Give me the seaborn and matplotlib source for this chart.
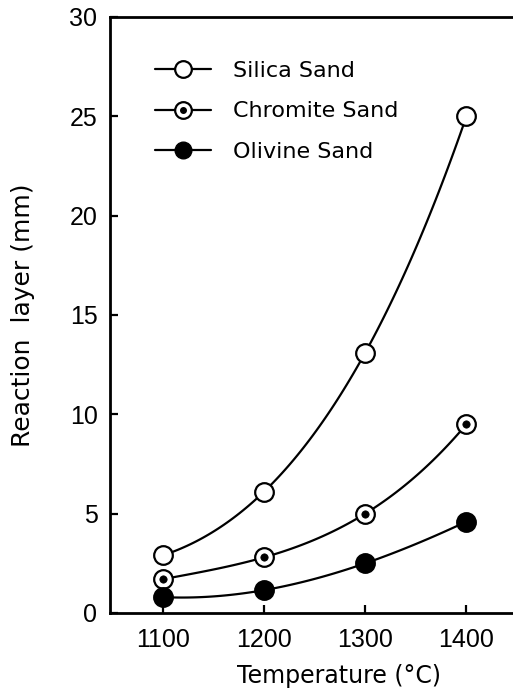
import matplotlib
matplotlib.use("Agg")
import matplotlib.pyplot as plt
import seaborn as sns
import numpy as np
from matplotlib.lines import Line2D
from matplotlib.legend_handler import HandlerTuple

# ---- data ----
temperature = [1100, 1200, 1300, 1400]
silica = [2.9, 6.1, 13.1, 25.0]
chromite = [1.7, 2.8, 5.0, 9.5]
olivine = [0.8, 1.15, 2.5, 4.6]
series_names = ["Silica Sand", "Chromite Sand", "Olivine Sand"]
xticks = [1100, 1200, 1300, 1400]
yticks = [0, 5, 10, 15, 20, 25, 30]

sns.set_style("ticks")
plt.rcParams["font.family"] = ["Liberation Sans", "DejaVu Sans"]
plt.rcParams["text.color"] = "black"
plt.rcParams["axes.labelcolor"] = "black"
plt.rcParams["xtick.color"] = "black"
plt.rcParams["ytick.color"] = "black"

fig = plt.figure(figsize=(5.13, 6.89), dpi=100)
ax = fig.add_axes([110 / 513, 1 - 613 / 689, 1 - 110 / 513, (613 - 17) / 689])

for vals in (silica, chromite, olivine):
    sns.regplot(x=temperature, y=vals, order=3, ci=None, scatter=False,
                truncate=True, ax=ax,
                line_kws=dict(color="black", lw=1.6, zorder=2))

msize = 180
sns.scatterplot(x=temperature, y=silica, ax=ax, s=msize, color="white",
                edgecolor="black", linewidth=1.6, zorder=3, legend=False)
sns.scatterplot(x=temperature, y=chromite, ax=ax, s=msize, color="white",
                edgecolor="black", linewidth=1.6, zorder=3, legend=False)
sns.scatterplot(x=temperature, y=chromite, ax=ax, s=28, color="black",
                edgecolor="black", linewidth=0.5, zorder=4, legend=False)
sns.scatterplot(x=temperature, y=olivine, ax=ax, s=msize, color="black",
                edgecolor="black", linewidth=1.6, zorder=3, legend=False)

ax.set_xlim(1048, 1446)
ax.set_ylim(0, 30)
ax.set_xticks(xticks)
ax.set_yticks(yticks)
ax.set_xticklabels([str(t) for t in xticks])
ax.set_yticklabels([str(t) for t in yticks])

for side in ("left", "bottom", "top"):
    ax.spines[side].set_linewidth(2.0)
    ax.spines[side].set_color("black")
ax.spines["right"].set_visible(False)

ax.tick_params(axis="both", direction="in", length=6, width=1.6,
               labelsize=18, colors="black", labelcolor="black")
ax.tick_params(axis="y", pad=9)
ax.tick_params(axis="x", pad=11)

ax.set_xlabel("Temperature (°C)", fontsize=17, color="black",
              family=["DejaVu Sans"])
ax.xaxis.set_label_coords(0.568, -0.085)
ax.set_ylabel("Reaction  layer (mm)", fontsize=18, labelpad=25,
              color="black", family=["DejaVu Sans"])

# legend
ms = 12
h_sil = Line2D([], [], color="black", lw=1.6, marker="o", markersize=ms,
               markerfacecolor="white", markeredgecolor="black",
               markeredgewidth=1.6)
h_chr_a = Line2D([], [], color="black", lw=1.6, marker="o", markersize=ms,
                 markerfacecolor="white", markeredgecolor="black",
                 markeredgewidth=1.6)
h_chr_b = Line2D([], [], ls="none", marker="o", markersize=4,
                 markerfacecolor="black", markeredgecolor="black")
h_oli = Line2D([], [], color="black", lw=1.6, marker="o", markersize=ms,
               markerfacecolor="black", markeredgecolor="black")
leg = ax.legend([h_sil, (h_chr_a, h_chr_b), h_oli], series_names,
                handler_map={tuple: HandlerTuple(ndivide=1)},
                loc="upper left", bbox_to_anchor=(45 / 403, 1 - 44 / 597),
                frameon=False, borderpad=0, borderaxespad=0,
                handlelength=2.5, handletextpad=1.0, labelspacing=0.92,
                prop=dict(family="DejaVu Sans", size=16))
for t in leg.get_texts():
    t.set_color("black")

fig.savefig("out.png", dpi=100)
